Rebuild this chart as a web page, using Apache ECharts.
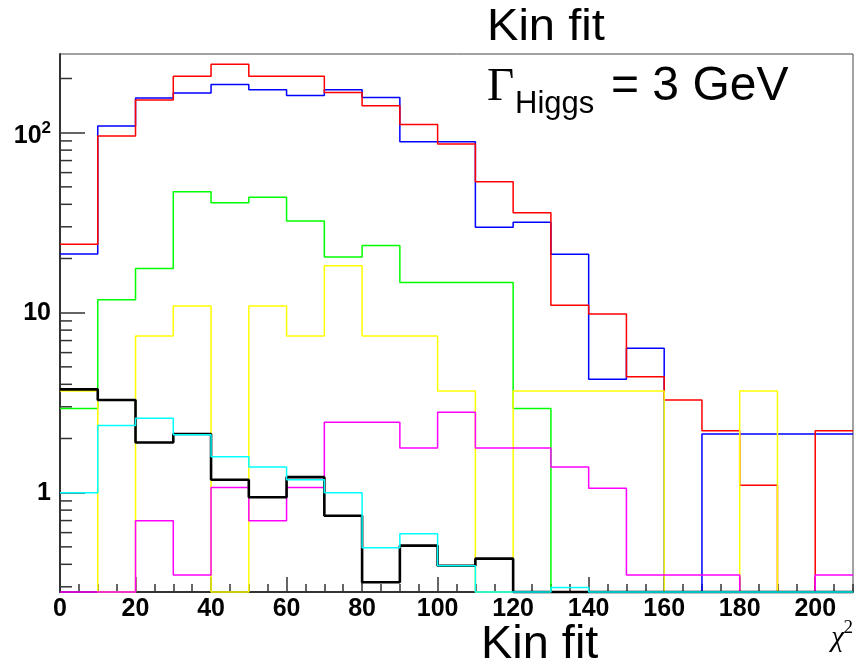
<!DOCTYPE html>
<html>
<head>
<meta charset="utf-8">
<script src="https://cdn.jsdelivr.net/npm/echarts@6/dist/echarts.min.js"></script>
<style>
html,body{margin:0;padding:0;background:#fff;}
#chart{width:854px;height:667px;}
</style>
</head>
<body>
<div id="chart"></div>
<script>
// Bin low edges (plus the upper edge of the last bin), chi^2 bins of width 10
const BIN_EDGES = [0,10,20,30,40,50,60,70,80,90,100,110,120,130,140,150,160,170,180,190,200,210];
const X_MIN = 0, X_MAX = 210;
const Y_MIN = 0.2807, Y_MAX = 273.6;
const X_MAJOR_TICKS_STEP = 20;
const X_MINOR_TICKS_STEP = 5;
const Y_MINOR_TICKS = [0.3,0.4,0.5,0.6,0.7,0.8,0.9,2,3,4,5,6,7,8,9,20,30,40,50,60,70,80,90,200];

// Histogram contents (0 = empty bin, drawn at the frame bottom as ROOT does)
const RED     = [24.0, 95.9, 152, 206, 240, 206, 206, 167, 141, 111, 86.5, 53.4, 35.9, 11.0, 9.83, 4.41, 3.27, 2.21, 1.10, 0, 2.21];
const BLUE    = [21.2, 109, 156, 166, 185, 173, 161, 173, 157, 89.1, 89.1, 29.8, 31.8, 21.1, 4.27, 6.34, 0, 2.12, 2.12, 2.12, 2.12];
const GREEN   = [2.94, 11.8, 17.6, 47.0, 40.8, 43.8, 32.3, 20.4, 23.6, 14.7, 14.7, 14.7, 2.94, 0, 0, 0, 0, 0, 0, 0, 0];
const YELLOW  = [3.67, 0, 7.42, 10.9, 0, 10.9, 7.42, 18.2, 7.42, 7.42, 3.67, 0, 3.67, 3.67, 3.67, 3.67, 0, 0, 3.67, 0, 0];
const MAGENTA = [0, 0, 0.699, 0.349, 1.07, 0.699, 1.07, 2.46, 2.46, 1.77, 2.80, 1.77, 1.77, 1.39, 1.06, 0.349, 0.349, 0.349, 0, 0, 0.349];
const CYAN    = [1.0, 2.36, 2.59, 2.10, 1.585, 1.39, 1.18, 1.0, 0.495, 0.592, 0.393, 0, 0, 0.297, 0, 0, 0, 0, 0, 0, 0];
const BLACK   = [3.75, 3.27, 1.90, 2.12, 1.18, 0.943, 1.22, 0.745, 0.318, 0.508, 0.393, 0.430, 0, 0, 0, 0, 0, 0, 0, 0, 0];

const SANS = 'Liberation Sans, Arial, Helvetica, sans-serif';
const SERIF = 'Liberation Serif, Times New Roman, serif';

function histPoints(vals){
  return BIN_EDGES.map((e, i) => {
    const v = vals[Math.min(i, vals.length - 1)];
    return [e, v > 0 ? v : Y_MIN];
  });
}

function hist(name, vals, color, width){
  return {
    name, type:'line', step:'end', data: histPoints(vals),
    showSymbol:false, symbol:'none', clip:false, silent:true,
    lineStyle:{color, width}, xAxisIndex:0, yAxisIndex:0
  };
}

const chart = echarts.init(document.getElementById('chart'), null, {renderer:'canvas'});

const option = {
  animation:false,
  backgroundColor:'#fff',
  grid:{left:60, right:1, top:54, bottom:75, show:true, borderColor:'#444', borderWidth:1, backgroundColor:'transparent'},
  xAxis:[{
    type:'value', min:X_MIN, max:X_MAX, interval:X_MAJOR_TICKS_STEP, position:'bottom',
    axisLine:{show:true, onZero:false, lineStyle:{color:'#333', width:2}},
    axisTick:{show:true, inside:true, length:15, lineStyle:{color:'#333', width:1.5}},
    axisLabel:{show:true, margin:5, color:'#000', fontSize:25, fontWeight:'bold', fontFamily:SANS, showMaxLabel:false},
    splitLine:{show:false}
  },{
    type:'value', min:X_MIN, max:X_MAX, interval:X_MINOR_TICKS_STEP, position:'bottom', offset:0,
    axisLine:{show:false},
    axisTick:{show:true, inside:true, length:8, lineStyle:{color:'#333', width:1.5}},
    axisLabel:{show:false}, splitLine:{show:false}
  }],
  yAxis:[{
    type:'log', logBase:10, min:Y_MIN, max:Y_MAX,
    axisLine:{show:true, onZero:false, lineStyle:{color:'#333', width:2}},
    axisTick:{show:true, inside:true, length:25, lineStyle:{color:'#333', width:1.5}},
    splitLine:{show:false},
    axisLabel:{
      show:true, margin:9, color:'#000', fontSize:25, fontWeight:'bold', fontFamily:SANS,
      showMinLabel:false, showMaxLabel:false,
      formatter:function(v){
        const l = Math.log10(v);
        if (Math.abs(l - Math.round(l)) > 1e-6) return '';
        const k = Math.round(l);
        if (k === 0) return '1';
        if (k === 1) return '10';
        return '{b|10}{sup|' + k + '}';
      },
      rich:{
        b:{fontSize:25, fontWeight:'bold', fontFamily:SANS, color:'#000', padding:[7,0,0,0], lineHeight:25},
        sup:{fontSize:17, fontWeight:'bold', fontFamily:SANS, color:'#000', lineHeight:24, verticalAlign:'top'}
      }
    }
  }],
  series:[
    hist('blue', BLUE, '#0000ff', 1.5),
    hist('red', RED, '#ff0000', 1.5),
    hist('green', GREEN, '#00ff00', 1.5),
    hist('yellow', YELLOW, '#ffff00', 1.5),
    hist('magenta', MAGENTA, '#ff00ff', 1.5),
    hist('black', BLACK, '#000000', 2.6),
    hist('cyan', CYAN, '#00ffff', 1.5),
    {
      type:'custom', xAxisIndex:0, yAxisIndex:0, silent:true, clip:false,
      data: Y_MINOR_TICKS.map(v => [X_MIN, v]),
      encode:{x:0, y:1},
      renderItem:function(params, api){
        const p = api.coord([api.value(0), api.value(1)]);
        return {type:'line', shape:{x1:p[0], y1:p[1], x2:p[0] + 12, y2:p[1]}, style:{stroke:'#333', lineWidth:1.5}};
      }
    }
  ],
  graphic:[
    {type:'text', x:487, y:28, scaleX:1.07, style:{text:'Kin fit', fontSize:44, fontFamily:SANS, fill:'#000', align:'left', verticalAlign:'middle'}},
    {type:'text', x:487, y:87.5, style:{text:'\u0393', fontSize:47, fontFamily:SERIF, fill:'#000', align:'left', verticalAlign:'middle'}},
    {type:'text', x:515, y:104.5, style:{text:'Higgs', fontSize:31, fontFamily:SANS, fill:'#000', align:'left', verticalAlign:'middle'}},
    {type:'text', x:611, y:86.5, style:{text:'= 3 GeV', fontSize:48, fontFamily:SANS, fill:'#000', align:'left', verticalAlign:'middle'}},
    {type:'text', x:481, y:645, scaleX:1.02, style:{text:'Kin fit', fontSize:46, fontFamily:SANS, fill:'#000', align:'left', verticalAlign:'middle'}},
    {type:'text', x:844, y:638, style:{text:'\u03C7', fontSize:29, fontStyle:'italic', fontFamily:SERIF, fill:'#000', align:'right', verticalAlign:'middle'}},
    {type:'text', x:853, y:628.5, style:{text:'2', fontSize:19, fontFamily:SERIF, fill:'#000', align:'right', verticalAlign:'middle'}}
  ]
};
chart.setOption(option);
</script>
</body>
</html>
